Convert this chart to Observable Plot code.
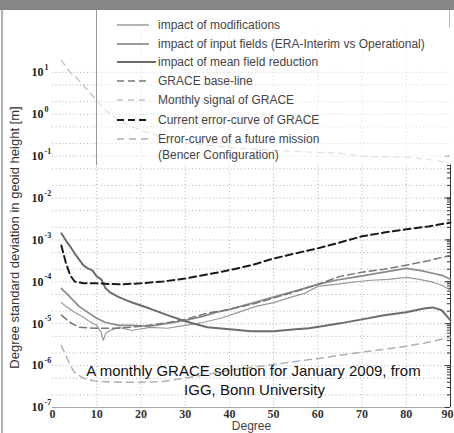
<!DOCTYPE html>
<html><head><meta charset="utf-8">
<script src="https://cdn.jsdelivr.net/npm/d3@7"></script>
<script src="https://cdn.jsdelivr.net/npm/@observablehq/plot@0.6"></script>
<style>
body{margin:0;background:#fff;width:454px;height:433px;overflow:hidden;position:relative;font-family:"Liberation Sans",Arial,sans-serif;}
#bar{position:absolute;left:0;top:0;width:454px;height:10px;background:#868686;}
#frame{position:absolute;left:1px;top:10px;width:2px;height:423px;background:#b0b0b0;}
#chart{position:absolute;left:0;top:10px;}
#legend{position:absolute;left:96px;top:10px;}
</style></head>
<body>
<div id="bar"></div>
<div id="chart"></div>
<div id="frame"></div>
<div id="legend"></div>
<script>
// ---- data (degree, degree standard deviation in geoid height [m]) ----
const errGraceDeg = [2,3,4,5,7,10,15,20,25,30,35,40,45,50,55,60,65,70,75,80,85,90];
const errGraceVal = [7.4e-4,2.9e-4,1.43e-4,1.02e-4,9.2e-5,9.2e-5,8.7e-5,9.2e-5,1.02e-4,1.2e-4,1.5e-4,1.9e-4,2.5e-4,3.6e-4,4.8e-4,6.3e-4,8.7e-4,1.22e-3,1.5e-3,1.8e-3,2.1e-3,2.6e-3];

const meanRedDeg = [2,3,4,5,6,7,8,9,10,11,12,13,15,18,22,26,30,35,40,45,50,55,58,62,65,70,75,80,84,86,88,90];
const meanRedVal = [1.44e-3,9.8e-4,7.0e-4,4.8e-4,3.44e-4,2.48e-4,2.1e-4,1.88e-4,1.35e-4,1.15e-4,7.0e-5,5.6e-5,4.3e-5,3.2e-5,2.3e-5,1.6e-5,1.15e-5,8.2e-6,7.4e-6,6.6e-6,6.6e-6,7.4e-6,7.8e-6,9.1e-6,1.02e-5,1.27e-5,1.6e-5,1.87e-5,2.3e-5,2.45e-5,2.1e-5,1.2e-5];

const inputDeg = [2,4,6,8,10,12,15,18,22,26,30,34,37,40,45,50,53,57,60,64,68,72,76,80,83,86,88,90];
const inputVal = [7.0e-5,4.3e-5,2.6e-5,1.87e-5,1.35e-5,1.07e-5,9.1e-6,9.1e-6,8.7e-6,1.02e-5,1.2e-5,1.5e-5,1.87e-5,2.2e-5,3.07e-5,4.3e-5,5.3e-5,7.0e-5,8.7e-5,1.09e-4,1.28e-4,1.51e-4,1.78e-4,2.1e-4,1.88e-4,1.6e-4,1.43e-4,1.15e-4];

const modDeg = [2,3,5,7,8,10,11,11.5,12,13,15,18,22,26,30,34,38,42,46,50,54,57,60,64,68,72,76,80,83,86,88,90];
const modVal = [3.2e-5,2.6e-5,1.87e-5,1.42e-5,1.2e-5,9.1e-6,6.2e-6,4.0e-6,5.9e-6,6.9e-6,8.2e-6,6.9e-6,8.2e-6,7.8e-6,9.1e-6,1.07e-5,1.35e-5,1.87e-5,2.6e-5,3.2e-5,4.3e-5,5.3e-5,7.8e-5,8.7e-5,9.8e-5,1.09e-4,1.15e-4,1.28e-4,1.15e-4,9.8e-5,8.3e-5,6.3e-5];

const baseDeg = [2,4,6,10,15,20,25,30,35,40,45,50,55,60,65,70,75,80,85,90];
const baseVal = [1.6e-5,1.07e-5,8.2e-6,7.8e-6,7.8e-6,8.7e-6,1.02e-5,1.27e-5,1.78e-5,2.2e-5,2.9e-5,4.1e-5,5.9e-5,8.7e-5,1.35e-4,1.7e-4,2.0e-4,2.5e-4,3.2e-4,4.3e-4];

const futureDeg = [2,3,4,5,7,10,15,20,25,30,35,40,45,50,55,60,65,70,75,80,85,90];
const futureVal = [3.05e-6,1.76e-6,1.02e-6,6.9e-7,5.0e-7,4.2e-7,4.0e-7,4.0e-7,4.2e-7,5.0e-7,6.2e-7,7.7e-7,9.1e-7,1.07e-6,1.26e-6,1.48e-6,1.76e-6,2.1e-6,2.45e-6,2.9e-6,3.6e-6,4.8e-6];

const signalDeg = [2,4,6,8,10,12,15,20,25,30,40,50,60,65,70,80,85,90];
const signalVal = [19.3,10,6.4,3.7,2.15,1.24,0.71,0.41,0.28,0.21,0.162,0.138,0.123,0.117,0.099,0.094,0.084,0.067];

// ---- ticks and labels ----
const xTicks = [0,10,20,30,40,50,60,70,80,90];
const xGrid = [10,20,30,40,50,60,70,80];
const yMajor = [1e-7,1e-6,1e-5,1e-4,1e-3,1e-2,1e-1,1e0,1e1];
const yExp = ["-7","-6","-5","-4","-3","-2","-1","0","1"];
const yGrid = [2e-7,5e-7,1e-6,2e-6,5e-6,1e-5,2e-5,5e-5,1e-4,2e-4,5e-4,1e-3,2e-3,5e-3,1e-2,2e-2,5e-2,1e-1,2e-1,5e-1,1,2,5,10];
const rightAxisTop = 0.067;
const legendLabels = [
  ["impact of modifications"],
  ["impact of input fields (ERA-Interim vs Operational)"],
  ["impact of mean field reduction"],
  ["GRACE base-line"],
  ["Monthly signal of GRACE"],
  ["Current error-curve of GRACE"],
  ["Error-curve of a future mission","(Bencer Configuration)"]
];
const yLabel = "Degree standard deviation in geoid height [m]";
const xLabel = "Degree";
const note1 = "A monthly GRACE solution for January 2009, from";
const note2 = "IGG, Bonn University";

const styles = [
  {stroke:"#9a9a9a", w:1.2, dash:null},
  {stroke:"#8a8a8a", w:1.7, dash:null},
  {stroke:"#6c6c6c", w:2.0, dash:null},
  {stroke:"#777777", w:1.5, dash:"7,4"},
  {stroke:"#c4c4c4", w:1.4, dash:"6,5"},
  {stroke:"#1a1a1a", w:2.0, dash:"7,4"},
  {stroke:"#b0b0b0", w:1.5, dash:"7,5"}
];
const seriesDeg = [modDeg, inputDeg, meanRedDeg, baseDeg, signalDeg, errGraceDeg, futureDeg];
const seriesVal = [modVal, inputVal, meanRedVal, baseVal, signalVal, errGraceVal, futureVal];

const lineMarks = seriesDeg.map((degs, i) => {
  const data = degs.map((d, j) => ({x: d, y: seriesVal[i][j]}));
  const s = styles[i];
  return Plot.line(data, {x: "x", y: "y", stroke: s.stroke, strokeWidth: s.w, strokeDasharray: s.dash});
});

const minorRight = d3.scaleLog().domain([1e-7, rightAxisTop]).ticks();

const serif = "'Liberation Serif','Times New Roman',serif";
const sans = "'Liberation Sans',Arial,sans-serif";
const lastTick = xTicks[xTicks.length - 1];

const chart = Plot.plot({
  width: 454, height: 423,
  marginLeft: 52, marginRight: 4, marginTop: 20, marginBottom: 26,
  x: {domain: [0, 90], axis: null},
  y: {type: "log", domain: [1e-7, 1e2], axis: null},
  style: {background: "transparent", fontFamily: sans},
  marks: [
    Plot.ruleY(yGrid, {stroke: "#999", strokeDasharray: "1,2.5", strokeOpacity: 0.75}),
    Plot.ruleX(xGrid, {stroke: "#999", strokeDasharray: "1,2.5", strokeOpacity: 0.75}),
    Plot.ruleY([1e-7], {stroke: "#a8a8a8"}),
    Plot.ruleX([90], {y1: rightAxisTop, y2: 1e-7, stroke: "#333"}),
    Plot.ruleY(minorRight, {y: d => d, x1: 89.3, x2: 90, stroke: "#333"}),
    Plot.ruleY(yMajor.slice(0, 7), {y: d => d, x1: 88.8, x2: 90, stroke: "#333"}),
    ...lineMarks,
    Plot.text(yMajor, {x: 0, y: d => d, text: () => "10", textAnchor: "start", dx: -21, fontFamily: serif, fontWeight: "bold", fontSize: 12, fill: "#222"}),
    Plot.text(yMajor, {x: 0, y: d => d, text: (d, i) => yExp[i], textAnchor: "start", dx: -8, dy: -5, fontFamily: serif, fontWeight: "bold", fontSize: 8, fill: "#222"}),
    Plot.text(xTicks.slice(0, -1), {x: d => d, y: 1e-7, text: d => String(d), dy: 7, lineAnchor: "middle", fontFamily: serif, fontWeight: "bold", fontSize: 12, fill: "#333"}),
    Plot.text([lastTick], {x: d => d, y: 1e-7, text: d => String(d), dy: 7, dx: 3, textAnchor: "end", lineAnchor: "middle", fontFamily: serif, fontWeight: "bold", fontSize: 12, fill: "#333"}),
    Plot.text([xLabel], {frameAnchor: "bottom", lineAnchor: "middle", textAnchor: "middle", dy: 19, fontSize: 12, fill: "#444"}),
    Plot.text([yLabel], {frameAnchor: "left", textAnchor: "middle", lineAnchor: "middle", rotate: -90, dx: -38, dy: 18.5, fontSize: 13, fill: "#333"}),
    Plot.text([note1], {frameAnchor: "bottom", lineAnchor: "middle", textAnchor: "middle", dx: 2, dy: -36, fontSize: 15, fill: "#111"}),
    Plot.text([note2], {frameAnchor: "bottom", lineAnchor: "middle", textAnchor: "middle", dx: 3, dy: -17, fontSize: 15, fill: "#111"})
  ]
});
document.getElementById("chart").appendChild(chart);

// ---- legend ----
const ns = "http://www.w3.org/2000/svg";
const lw = 355, lh = 155;
const svg = document.createElementNS(ns, "svg");
svg.setAttribute("width", lw); svg.setAttribute("height", lh);
svg.style.fontFamily = sans;
const bg = document.createElementNS(ns, "rect");
bg.setAttribute("x", 0); bg.setAttribute("y", 0); bg.setAttribute("width", lw); bg.setAttribute("height", lh);
bg.setAttribute("fill", "#fff"); bg.setAttribute("fill-opacity", 0.55);
svg.appendChild(bg);
const lb = document.createElementNS(ns, "line");
lb.setAttribute("x1", 0.5); lb.setAttribute("x2", 0.5); lb.setAttribute("y1", 0); lb.setAttribute("y2", lh);
lb.setAttribute("stroke", "#999"); svg.appendChild(lb);
const rb = document.createElementNS(ns, "line");
rb.setAttribute("x1", lw - 1.5); rb.setAttribute("x2", lw - 1.5); rb.setAttribute("y1", 0); rb.setAttribute("y2", 18);
rb.setAttribute("stroke", "#bbb"); svg.appendChild(rb);
const rowY = [15, 34, 52, 71, 90, 110, 129];
legendLabels.forEach((lines, i) => {
  const s = styles[i];
  const l = document.createElementNS(ns, "line");
  l.setAttribute("x1", 21); l.setAttribute("x2", i === 2 ? 60 : 53);
  l.setAttribute("y1", rowY[i]); l.setAttribute("y2", rowY[i]);
  l.setAttribute("stroke", s.stroke); l.setAttribute("stroke-width", Math.max(s.w, 1.5));
  if (s.dash) l.setAttribute("stroke-dasharray", s.dash);
  svg.appendChild(l);
  lines.forEach((t, k) => {
    const tx = document.createElementNS(ns, "text");
    tx.setAttribute("x", 62); tx.setAttribute("y", rowY[i] + k * 16);
    tx.setAttribute("dy", "0.35em");
    tx.setAttribute("font-size", 12);
    tx.setAttribute("fill", "#444");
    tx.textContent = t;
    svg.appendChild(tx);
  });
});
document.getElementById("legend").appendChild(svg);
</script>
</body></html>
